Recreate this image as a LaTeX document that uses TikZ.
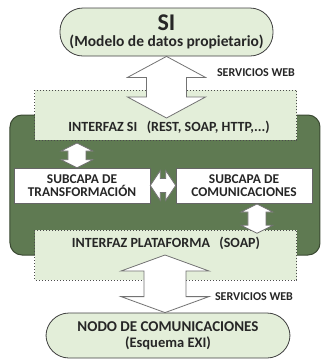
\documentclass[tikz,border=0pt]{standalone}
\usepackage{fontspec}
\setmainfont{Carlito}
\usetikzlibrary{positioning,calc}
\definecolor{hojaverde}{HTML}{E3EED9}
\definecolor{capaverde}{HTML}{5F7A52}
\definecolor{bordeverde}{HTML}{3B4A33}
\definecolor{tinta}{HTML}{262626}
\tikzset{
  flecha/.style={fill=white,draw=black!55,line width=0.8pt,line join=miter},
  nube/.style={draw=black!75,fill=hojaverde,line width=0.8pt,rounded corners=23pt,align=center,text=tinta,inner sep=0pt},
  interfaz/.style={draw=black!70,fill=hojaverde,dotted,line width=1pt},
  subcapa/.style={draw=black!60,fill=white,line width=0.6pt,align=center,text=tinta,font=\fontsize{13.4}{13.5}\selectfont\bfseries,inner sep=0pt},
  rotulo/.style={text=tinta,font=\fontsize{12}{13}\selectfont\bfseries,inner sep=0pt}
}
% vertical double block arrow between two points: from, to, head half, shaft half, head length
\newcommand{\flechav}[5]{%
  \filldraw[flecha] let \p1=(#1), \p2=(#2) in
    (\x1,\y1) -- (\x1+#3,\y1-#5) -- (\x1+#4,\y1-#5) -- (\x1+#4,\y2+#5)
    -- (\x1+#3,\y2+#5) -- (\x1,\y2) -- (\x1-#3,\y2+#5) -- (\x1-#4,\y2+#5)
    -- (\x1-#4,\y1-#5) -- (\x1-#3,\y1-#5) -- cycle;}
% horizontal variant
\newcommand{\flechah}[5]{%
  \filldraw[flecha] let \p1=(#1), \p2=(#2) in
    (\x1,\y1) -- (\x1+#5,\y1+#3) -- (\x1+#5,\y1+#4) -- (\x2-#5,\y1+#4)
    -- (\x2-#5,\y1+#3) -- (\x2,\y1) -- (\x2-#5,\y1-#3) -- (\x2-#5,\y1-#4)
    -- (\x1+#5,\y1-#4) -- (\x1+#5,\y1-#3) -- cycle;}
\begin{document}
\begin{tikzpicture}[x=1pt,y=-1pt]
    \useasboundingbox (0,0) rectangle (322,360);
    % capa central
    \filldraw[fill=capaverde,draw=bordeverde,line width=1pt,rounded corners=12pt] (10,115) rectangle (320,255);
    % interfaces
    \filldraw[interfaz] (35,90) rectangle (297,140);
    \filldraw[interfaz] (35,230) rectangle (297,280);
    \node (intsi) at (169,127) [text=tinta,font=\fontsize{14}{15}\selectfont\bfseries] {INTERFAZ SI\ \ \ (REST, SOAP, HTTP,...)};
    \node (intpl) at (166,243) [text=tinta,font=\fontsize{14}{15}\selectfont\bfseries] {INTERFAZ PLATAFORMA\ \ \ (SOAP)};
    % extremos
    \node (si) at (166.5,32) [nube,font=\fontsize{15.5}{16}\selectfont\bfseries,minimum width=213pt,minimum height=48pt] {{\fontsize{24}{24}\selectfont SI}\\(Modelo de datos propietario)};
    \node (nodo) at (168,335.5) [nube,font=\fontsize{15}{16.5}\selectfont\bfseries,minimum width=244pt,minimum height=45pt] {NODO DE COMUNICACIONES\\{\fontsize{14.5}{16.5}\selectfont (Esquema EXI)}};
    % subcapas
    \node (trans) at (82,185.5) [subcapa,minimum width=136pt,minimum height=35pt] {SUBCAPA DE\\TRANSFORMACIÓN};
    \node (comu) at (244,185.5) [subcapa,minimum width=136pt,minimum height=35pt] {SUBCAPA DE\\COMUNICACIONES};
    % rotulos
    \node (web1) at (256,73) [rotulo] {SERVICIOS WEB};
    \node (web2) at (254,297) [rotulo] {SERVICIOS WEB};
    % puntos de las flechas
    \coordinate (f1) at (167,118);
    \coordinate (f2a) at (77,143);
    \coordinate (f3a) at (257,204);
    \coordinate (f4) at (165,255);
    % flechas
    \flechav{si.south}{f1}{39}{20}{21}
    \flechav{f2a}{f2a |- trans.north}{16}{9}{8}
    \flechah{trans.east}{comu.west}{15}{7}{10}
    \flechav{f3a}{f3a |- intpl.north}{16}{9}{8}
    \flechav{f4}{nodo.north}{44}{21}{16}
\end{tikzpicture}
\end{document}
